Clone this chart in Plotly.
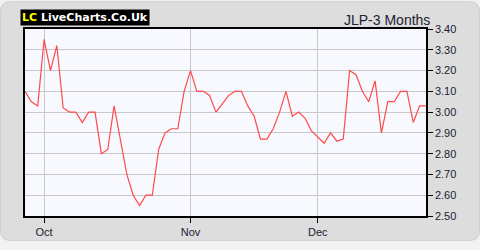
import plotly.graph_objects as go

# Closing prices (trading-day index order)
prices = [
    3.10, 3.05, 3.03, 3.35, 3.20, 3.32, 3.02, 3.00, 3.00, 2.95,
    3.00, 3.00, 2.80, 2.82, 3.03, 2.86, 2.70, 2.60, 2.55, 2.60,
    2.60, 2.82, 2.90, 2.92, 2.92, 3.10, 3.20, 3.10, 3.10, 3.08,
    3.00, 3.04, 3.08, 3.10, 3.10, 3.03, 2.98, 2.87, 2.87, 2.92,
    3.00, 3.10, 2.98, 3.00, 2.97, 2.91, 2.88, 2.85, 2.90, 2.86,
    2.87, 3.20, 3.18, 3.10, 3.05, 3.15, 2.90, 3.05, 3.05, 3.10,
    3.10, 2.95, 3.03, 3.03,
]
month_labels = ["Oct", "Nov", "Dec"]
month_index = [3, 26, 46]
y_ticks = [2.5, 2.6, 2.7, 2.8, 2.9, 3.0, 3.1, 3.2, 3.3, 3.4]

W, H = 480, 250
ML, MR, MT, MB = 25, 54, 29, 26
pw, ph = W - ML - MR, H - MT - MB

def px2paper(x, y):
    return (x - ML) / pw, (H - MB - y) / ph

def rounded_panel(x0, y0, x1, y1, r):
    pts = []
    def P(x, y):
        a, b = px2paper(x, y)
        return f"{a:.5f},{b:.5f}"
    return (f"M {P(x0 + r, y0)} L {P(x1 - r, y0)} Q {P(x1, y0)} {P(x1, y0 + r)} "
            f"L {P(x1, y1 - r)} Q {P(x1, y1)} {P(x1 - r, y1)} "
            f"L {P(x0 + r, y1)} Q {P(x0, y1)} {P(x0, y1 - r)} "
            f"L {P(x0, y0 + r)} Q {P(x0, y0)} {P(x0 + r, y0)} Z")

fig = go.Figure()
fig.add_trace(go.Scatter(
    x=list(range(len(prices))), y=prices, mode="lines",
    line=dict(color="#ff4a4a", width=1.2), hoverinfo="skip",
))

lx, ly = px2paper(20, 8)
tx, ty = px2paper(432, 9)
fig.update_layout(
    width=W, height=H,
    margin=dict(l=ML, r=MR, t=MT, b=MB),
    paper_bgcolor="#f2f2f2",
    plot_bgcolor="#f8f9ff",
    showlegend=False,
    shapes=[
        dict(type="path", xref="paper", yref="paper", layer="below",
             path=rounded_panel(0.5, 0.5, W - 0.5, H - 0.5, 10),
             fillcolor="#dddddd", line=dict(color="#cfcfcf", width=1)),
        dict(type="rect", xref="paper", yref="paper", layer="below",
             x0=0, y0=0, x1=1, y1=1, fillcolor="#f8f9ff", line=dict(width=0)),
    ],
    xaxis=dict(
        range=[0, len(prices) - 1], tickmode="array",
        tickvals=month_index, ticktext=month_labels,
        showgrid=True, gridcolor="#c8c8c8", gridwidth=1,
        showline=True, linecolor="#000", linewidth=1.5, mirror=True,
        ticks="outside", ticklen=5, tickcolor="#000",
        tickfont=dict(family="Liberation Sans, Arial", size=11, color="#1a1a33"),
        zeroline=False, fixedrange=True,
    ),
    yaxis=dict(
        range=[2.5, 3.4], side="right", tickmode="array",
        tickvals=y_ticks, ticktext=[f"{v:.2f}" for v in y_ticks],
        showgrid=True, gridcolor="#c8c8c8", gridwidth=1,
        showline=True, linecolor="#000", linewidth=1.5, mirror=True,
        ticks="outside", ticklen=5, tickcolor="#000",
        tickfont=dict(family="Liberation Sans, Arial", size=11, color="#1a1a33"),
        zeroline=False, fixedrange=True,
    ),
    annotations=[
        dict(
            xref="paper", yref="paper", x=lx, y=ly, xanchor="left", yanchor="top",
            text="<b><span style='color:#ffff00'>LC</span> LiveCharts.Co.Uk</b>",
            showarrow=False, bgcolor="#000000", borderpad=1,
            font=dict(family="DejaVu Sans", size=11, color="#ffffff"),
        ),
        dict(
            xref="paper", yref="paper", x=tx, y=ty, xanchor="right", yanchor="top",
            text="JLP-3 Months", showarrow=False,
            font=dict(family="Liberation Sans, Arial", size=14, color="#222233"),
        ),
    ],
)

fig.write_html("out.html")
